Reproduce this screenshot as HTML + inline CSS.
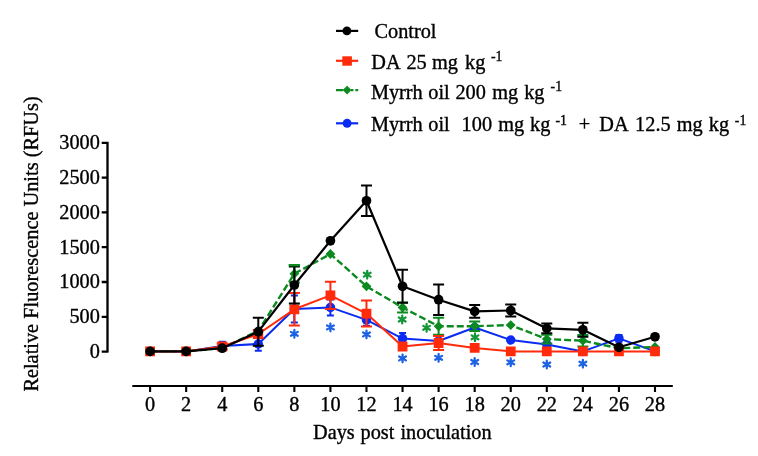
<!DOCTYPE html>
<html><head><meta charset="utf-8"><style>
html,body{margin:0;padding:0;background:#fff;width:758px;height:456px;overflow:hidden}
svg{display:block;will-change:transform}
text{font-family:"Liberation Serif",serif}
</style></head><body>
<svg width="758" height="456" viewBox="0 0 758 456">
<rect width="758" height="456" fill="#fff"/>
<g font-family="Liberation Serif" font-size="20.3" fill="#000" stroke="#000" stroke-width="0.35">
<text x="99.8" y="357.90" text-anchor="end">0</text><text x="99.8" y="323.10" text-anchor="end">500</text><text x="99.8" y="288.30" text-anchor="end">1000</text><text x="99.8" y="253.50" text-anchor="end">1500</text><text x="99.8" y="218.70" text-anchor="end">2000</text><text x="99.8" y="183.90" text-anchor="end">2500</text><text x="99.8" y="149.10" text-anchor="end">3000</text>
<text x="150.10" y="410.7" text-anchor="middle">0</text><text x="186.16" y="410.7" text-anchor="middle">2</text><text x="222.23" y="410.7" text-anchor="middle">4</text><text x="258.29" y="410.7" text-anchor="middle">6</text><text x="294.36" y="410.7" text-anchor="middle">8</text><text x="330.42" y="410.7" text-anchor="middle">10</text><text x="366.48" y="410.7" text-anchor="middle">12</text><text x="402.55" y="410.7" text-anchor="middle">14</text><text x="438.61" y="410.7" text-anchor="middle">16</text><text x="474.68" y="410.7" text-anchor="middle">18</text><text x="510.74" y="410.7" text-anchor="middle">20</text><text x="546.80" y="410.7" text-anchor="middle">22</text><text x="582.87" y="410.7" text-anchor="middle">24</text><text x="618.93" y="410.7" text-anchor="middle">26</text><text x="655.00" y="410.7" text-anchor="middle">28</text>
<text x="313.07" y="438.60" font-size="20.3">Days</text><text x="360.52" y="438.60" font-size="20.3">post</text><text x="400.42" y="438.60" font-size="20.3">inoculation</text>
<text transform="translate(37.8 391.61) rotate(-90)" font-size="20.34">Relative Fluorescence Units (RFUs)</text>
<text x="374.49" y="37.80" font-size="20.3">Control</text><text x="371.30" y="69.00" font-size="20.3">DA</text><text x="406.45" y="69.00" font-size="20.3">25</text><text x="432.08" y="69.00" font-size="20.3">mg</text><text x="465.00" y="69.00" font-size="20.3">kg</text><text x="491.01" y="61.30" font-size="13.8">-1</text><text x="370.94" y="98.50" font-size="20.3">Myrrh</text><text x="428.31" y="98.50" font-size="20.3">oil</text><text x="455.45" y="98.50" font-size="20.3">200</text><text x="492.28" y="98.50" font-size="20.3">mg</text><text x="524.15" y="98.50" font-size="20.3">kg</text><text x="550.56" y="91.30" font-size="13.8">-1</text><text x="370.94" y="131.00" font-size="20.3">Myrrh</text><text x="428.31" y="131.00" font-size="20.3">oil</text><text x="461.62" y="131.00" font-size="20.3">100</text><text x="498.23" y="131.00" font-size="20.3">mg</text><text x="530.10" y="131.00" font-size="20.3">kg</text><text x="578.77" y="131.00" font-size="20.3">+</text><text x="599.25" y="131.00" font-size="20.3">DA</text><text x="635.11" y="131.00" font-size="20.3">12.5</text><text x="676.68" y="131.00" font-size="20.3">mg</text><text x="708.85" y="131.00" font-size="20.3">kg</text><text x="555.46" y="124.60" font-size="13.8">-1</text><text x="734.86" y="124.60" font-size="13.8">-1</text>
</g>
<path d="M107.5 141.8V352.4M101.7 351.60H108M101.7 316.80H108M101.7 282.00H108M101.7 247.20H108M101.7 212.40H108M101.7 177.60H108M101.7 142.80H108" stroke="#000" stroke-width="2.3" fill="none"/>
<path d="M132.3 386H672.8M150.10 386V392M186.16 386V392M222.23 386V392M258.29 386V392M294.36 386V392M330.42 386V392M366.48 386V392M402.55 386V392M438.61 386V392M474.68 386V392M510.74 386V392M546.80 386V392M582.87 386V392M618.93 386V392M655.00 386V392" stroke="#000" stroke-width="2.1" fill="none"/>
<path d="M222.23 341.80V350.20M218.73 341.80H225.73M218.73 350.20H225.73M258.29 337.20V350.80M254.79 337.20H261.79M254.79 350.80H261.79M294.36 295.50V322.50M290.86 295.50H297.86M290.86 322.50H297.86M330.42 299.40V315.40M326.92 299.40H333.92M326.92 315.40H333.92M366.48 314.10V325.70M362.98 314.10H369.98M362.98 325.70H369.98M402.55 332.90V344.30M399.05 332.90H406.05M399.05 344.30H406.05M618.93 335.00V341.80M615.43 335.00H622.43M615.43 341.80H622.43" stroke="#0a2cf2" stroke-width="2" fill="none"/>
<polyline points="150.10,351.40 186.16,351.40 222.23,346.00 258.29,344.00 294.36,309.00 330.42,307.40 366.48,319.90 402.55,338.60 438.61,341.00 474.68,327.50 510.74,340.00 546.80,344.50 582.87,351.40 618.93,338.40 655.00,351.40" fill="none" stroke="#0a2cf2" stroke-width="2.05" stroke-linejoin="round"/>
<g fill="#0a2cf2"><circle cx="150.10" cy="351.40" r="4.75"/><circle cx="186.16" cy="351.40" r="4.75"/><circle cx="222.23" cy="346.00" r="4.75"/><circle cx="258.29" cy="344.00" r="4.75"/><circle cx="294.36" cy="309.00" r="4.75"/><circle cx="330.42" cy="307.40" r="4.75"/><circle cx="366.48" cy="319.90" r="4.75"/><circle cx="402.55" cy="338.60" r="4.75"/><circle cx="438.61" cy="341.00" r="4.75"/><circle cx="474.68" cy="327.50" r="4.75"/><circle cx="510.74" cy="340.00" r="4.75"/><circle cx="546.80" cy="344.50" r="4.75"/><circle cx="582.87" cy="351.40" r="4.75"/><circle cx="618.93" cy="338.40" r="4.75"/><circle cx="655.00" cy="351.40" r="4.75"/></g>
<path d="M294.36 265.00V282.40M288.86 265.00H299.86M288.86 282.40H299.86M402.55 302.50V312.50M397.05 302.50H408.05M397.05 312.50H408.05M438.61 317.80V334.80M433.11 317.80H444.11M433.11 334.80H444.11M474.68 321.50V330.90M469.18 321.50H480.18M469.18 330.90H480.18M546.80 334.80V343.40M541.30 334.80H552.30M541.30 343.40H552.30M582.87 334.90V346.50M577.37 334.90H588.37M577.37 346.50H588.37" stroke="#0c8a20" stroke-width="2" fill="none"/>
<polyline points="150.10,351.40 186.16,351.40 222.23,348.00 258.29,331.00 294.36,273.70 330.42,254.00 366.48,286.30 402.55,307.50 438.61,326.30 474.68,326.20 510.74,325.10 546.80,339.10 582.87,340.70 618.93,348.30 655.00,347.00" fill="none" stroke="#0c8a20" stroke-width="2.4" stroke-linejoin="round" stroke-dasharray="7 3"/>
<path fill="#0c8a20" d="M150.10 346.50L155.00 351.40L150.10 356.30L145.20 351.40ZM186.16 346.50L191.06 351.40L186.16 356.30L181.26 351.40ZM222.23 343.10L227.13 348.00L222.23 352.90L217.33 348.00ZM258.29 326.10L263.19 331.00L258.29 335.90L253.39 331.00ZM294.36 268.80L299.26 273.70L294.36 278.60L289.46 273.70ZM330.42 249.10L335.32 254.00L330.42 258.90L325.52 254.00ZM366.48 281.40L371.38 286.30L366.48 291.20L361.58 286.30ZM402.55 302.60L407.45 307.50L402.55 312.40L397.65 307.50ZM438.61 321.40L443.51 326.30L438.61 331.20L433.71 326.30ZM474.68 321.30L479.58 326.20L474.68 331.10L469.78 326.20ZM510.74 320.20L515.64 325.10L510.74 330.00L505.84 325.10ZM546.80 334.20L551.70 339.10L546.80 344.00L541.90 339.10ZM582.87 335.80L587.77 340.70L582.87 345.60L577.97 340.70ZM618.93 343.40L623.83 348.30L618.93 353.20L614.03 348.30ZM655.00 342.10L659.90 347.00L655.00 351.90L650.10 347.00Z"/>
<path d="M222.23 343.50V349.50M216.73 343.50H227.73M216.73 349.50H227.73M258.29 330.00V338.00M252.79 330.00H263.79M252.79 338.00H263.79M294.36 293.00V325.60M288.86 293.00H299.86M288.86 325.60H299.86M330.42 281.70V309.10M324.92 281.70H335.92M324.92 309.10H335.92M366.48 300.60V326.60M360.98 300.60H371.98M360.98 326.60H371.98M438.61 336.00V350.00M433.11 336.00H444.11M433.11 350.00H444.11" stroke="#ff2b0a" stroke-width="2" fill="none"/>
<polyline points="150.10,351.40 186.16,351.40 222.23,346.50 258.29,334.00 294.36,309.30 330.42,295.40 366.48,313.60 402.55,346.50 438.61,343.00 474.68,347.90 510.74,351.40 546.80,351.40 582.87,351.40 618.93,351.40 655.00,351.40" fill="none" stroke="#ff2b0a" stroke-width="2.05" stroke-linejoin="round"/>
<path fill="#ff2b0a" d="M145.20 346.50h9.8v9.8h-9.8ZM181.26 346.50h9.8v9.8h-9.8ZM217.33 341.60h9.8v9.8h-9.8ZM253.39 329.10h9.8v9.8h-9.8ZM289.46 304.40h9.8v9.8h-9.8ZM325.52 290.50h9.8v9.8h-9.8ZM361.58 308.70h9.8v9.8h-9.8ZM397.65 341.60h9.8v9.8h-9.8ZM433.71 338.10h9.8v9.8h-9.8ZM469.78 343.00h9.8v9.8h-9.8ZM505.84 346.50h9.8v9.8h-9.8ZM541.90 346.50h9.8v9.8h-9.8ZM577.97 346.50h9.8v9.8h-9.8ZM614.03 346.50h9.8v9.8h-9.8ZM650.10 346.50h9.8v9.8h-9.8Z"/>
<path d="M258.29 317.70V345.70M252.79 317.70H263.79M252.79 345.70H263.79M294.36 266.60V303.40M288.86 266.60H299.86M288.86 303.40H299.86M366.48 185.60V216.00M360.98 185.60H371.98M360.98 216.00H371.98M402.55 269.80V302.80M397.05 269.80H408.05M397.05 302.80H408.05M438.61 284.40V315.00M433.11 284.40H444.11M433.11 315.00H444.11M474.68 305.10V317.70M469.18 305.10H480.18M469.18 317.70H480.18M510.74 304.50V316.50M505.24 304.50H516.24M505.24 316.50H516.24M546.80 323.50V333.30M541.30 323.50H552.30M541.30 333.30H552.30M582.87 322.80V336.80M577.37 322.80H588.37M577.37 336.80H588.37" stroke="#000000" stroke-width="2" fill="none"/>
<polyline points="150.10,351.40 186.16,351.40 222.23,348.20 258.29,331.70 294.36,285.00 330.42,240.80 366.48,200.80 402.55,286.30 438.61,299.70 474.68,311.40 510.74,310.50 546.80,328.40 582.87,329.80 618.93,347.30 655.00,336.80" fill="none" stroke="#000000" stroke-width="2.2" stroke-linejoin="round"/>
<g fill="#000000"><circle cx="150.10" cy="351.40" r="4.85"/><circle cx="186.16" cy="351.40" r="4.85"/><circle cx="222.23" cy="348.20" r="4.85"/><circle cx="258.29" cy="331.70" r="4.85"/><circle cx="294.36" cy="285.00" r="4.85"/><circle cx="330.42" cy="240.80" r="4.85"/><circle cx="366.48" cy="200.80" r="4.85"/><circle cx="402.55" cy="286.30" r="4.85"/><circle cx="438.61" cy="299.70" r="4.85"/><circle cx="474.68" cy="311.40" r="4.85"/><circle cx="510.74" cy="310.50" r="4.85"/><circle cx="546.80" cy="328.40" r="4.85"/><circle cx="582.87" cy="329.80" r="4.85"/><circle cx="618.93" cy="347.30" r="4.85"/><circle cx="655.00" cy="336.80" r="4.85"/></g>
<path d="M288.76 265.2H299.96" stroke="#0c8a20" stroke-width="2.4"/>
<path d="M294.36 329.90L294.36 337.70M290.98 331.85L297.73 335.75M290.98 335.75L297.73 331.85M330.42 323.50L330.42 331.30M327.04 325.45L333.80 329.35M327.04 329.35L333.80 325.45M366.48 330.50L366.48 338.30M363.11 332.45L369.86 336.35M363.11 336.35L369.86 332.45M402.55 354.50L402.55 362.30M399.17 356.45L405.93 360.35M399.17 360.35L405.93 356.45M438.61 353.90L438.61 361.70M435.23 355.85L441.99 359.75M435.23 359.75L441.99 355.85M474.68 358.10L474.68 365.90M471.30 360.05L478.05 363.95M471.30 363.95L478.05 360.05M510.74 358.40L510.74 366.20M507.36 360.35L514.12 364.25M507.36 364.25L514.12 360.35M546.80 360.60L546.80 368.40M543.43 362.55L550.18 366.45M543.43 366.45L550.18 362.55M582.87 359.80L582.87 367.60M579.49 361.75L586.25 365.65M579.49 365.65L586.25 361.75" stroke="#1d62e2" stroke-width="2.25" stroke-linecap="round" fill="none"/>
<path d="M367.20 270.80L367.20 278.60M363.82 272.75L370.58 276.65M363.82 276.65L370.58 272.75M402.20 315.60L402.20 323.40M398.82 317.55L405.58 321.45M398.82 321.45L405.58 317.55M426.60 323.90L426.60 331.70M423.22 325.85L429.98 329.75M423.22 329.75L429.98 325.85M475.00 333.40L475.00 341.20M471.62 335.35L478.38 339.25M471.62 339.25L478.38 335.35" stroke="#16963a" stroke-width="2.25" stroke-linecap="round" fill="none"/>
<path d="M336 30.9H358.2" stroke="#000000" stroke-width="2.2"/><circle cx="346.9" cy="30.9" r="4.4"/>
<path d="M336 60.8H358.2" stroke="#ff2b0a" stroke-width="2.2"/><rect x="342.3" y="56.3" width="9.6" height="9.4" fill="#ff2b0a"/>
<path d="M336 90.1H343.2M351 90.1H353.4M355.4 90.1H358.2" stroke="#0c8a20" stroke-width="2.3"/><path d="M347.1 85.7L351.5 90.1L347.1 94.5L342.7 90.1Z" fill="#0c8a20"/>
<path d="M336 123.3H358.2" stroke="#0a2cf2" stroke-width="2.2"/><circle cx="347.1" cy="123.35" r="4.5" fill="#0a2cf2"/>
</svg>
</body></html>
